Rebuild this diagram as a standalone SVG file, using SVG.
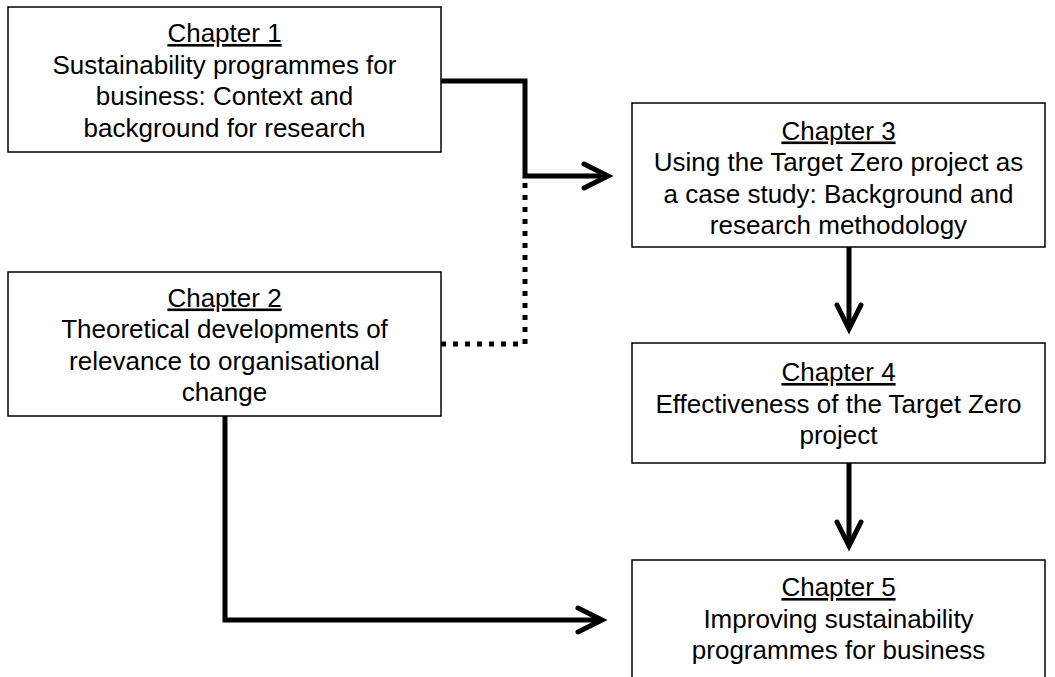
<svg xmlns="http://www.w3.org/2000/svg" width="1055" height="677" viewBox="0 0 1055 677">
  <style>
    .box { fill: #fff; stroke: #000; stroke-width: 1.5; }
    .lbl { font-family: "Liberation Sans", Arial, sans-serif; font-size: 26px; fill: #000; text-anchor: middle; }
    .ttl { text-decoration: underline; }
    .link { fill: none; stroke: #000; stroke-width: 5; }
    .arrow { marker-end: url(#chev); }
    .dotted { stroke-dasharray: 5 7; }
  </style>
  <defs>
    <!-- open chevron arrowhead, tip slightly past the line end -->
    <marker id="chev" markerUnits="userSpaceOnUse" viewBox="-30 -16 36 32" refX="0" refY="0" markerWidth="36" markerHeight="32" orient="auto" overflow="visible">
      <path d="M-22,-12 L2,0 L-22,12" fill="none" stroke="#000" stroke-width="5" stroke-linecap="round" stroke-linejoin="miter"/>
    </marker>
  </defs>

  <g id="connectors">
    <path class="link dotted" d="M441,344 H525 V178"/>
    <path class="link arrow" d="M441,81 H525 V176 H606"/>
    <path class="link arrow" d="M849,247 V327"/>
    <path class="link arrow" d="M849,463 V544"/>
    <path class="link arrow" d="M225,416 V620 H600"/>
  </g>

  <g id="chapter1">
    <rect class="box" x="8" y="7" width="433" height="145"/>
    <text class="lbl" x="224.5" y="42"><tspan class="ttl">Chapter 1</tspan></text>
    <text class="lbl" x="224.5" y="73.5">Sustainability programmes for</text>
    <text class="lbl" x="224.5" y="105">business: Context and</text>
    <text class="lbl" x="224.5" y="136.5">background for research</text>
  </g>

  <g id="chapter2">
    <rect class="box" x="8" y="272" width="433" height="144"/>
    <text class="lbl" x="224.5" y="306.5"><tspan class="ttl">Chapter 2</tspan></text>
    <text class="lbl" x="224.5" y="338">Theoretical developments of</text>
    <text class="lbl" x="224.5" y="369.5">relevance to organisational</text>
    <text class="lbl" x="224.5" y="401">change</text>
  </g>

  <g id="chapter3">
    <rect class="box" x="632" y="103" width="413" height="144"/>
    <text class="lbl" x="838.5" y="139.5"><tspan class="ttl">Chapter 3</tspan></text>
    <text class="lbl" x="838.5" y="171">Using the Target Zero project as</text>
    <text class="lbl" x="838.5" y="202.5">a case study: Background and</text>
    <text class="lbl" x="838.5" y="234">research methodology</text>
  </g>

  <g id="chapter4">
    <rect class="box" x="632" y="343" width="413" height="120"/>
    <text class="lbl" x="838.5" y="381"><tspan class="ttl">Chapter 4</tspan></text>
    <text class="lbl" x="838.5" y="412.5">Effectiveness of the Target Zero</text>
    <text class="lbl" x="838.5" y="444">project</text>
  </g>

  <g id="chapter5">
    <rect class="box" x="632" y="560" width="413" height="130"/>
    <text class="lbl" x="838.5" y="596"><tspan class="ttl">Chapter 5</tspan></text>
    <text class="lbl" x="838.5" y="627.5">Improving sustainability</text>
    <text class="lbl" x="838.5" y="659">programmes for business</text>
  </g>
</svg>
